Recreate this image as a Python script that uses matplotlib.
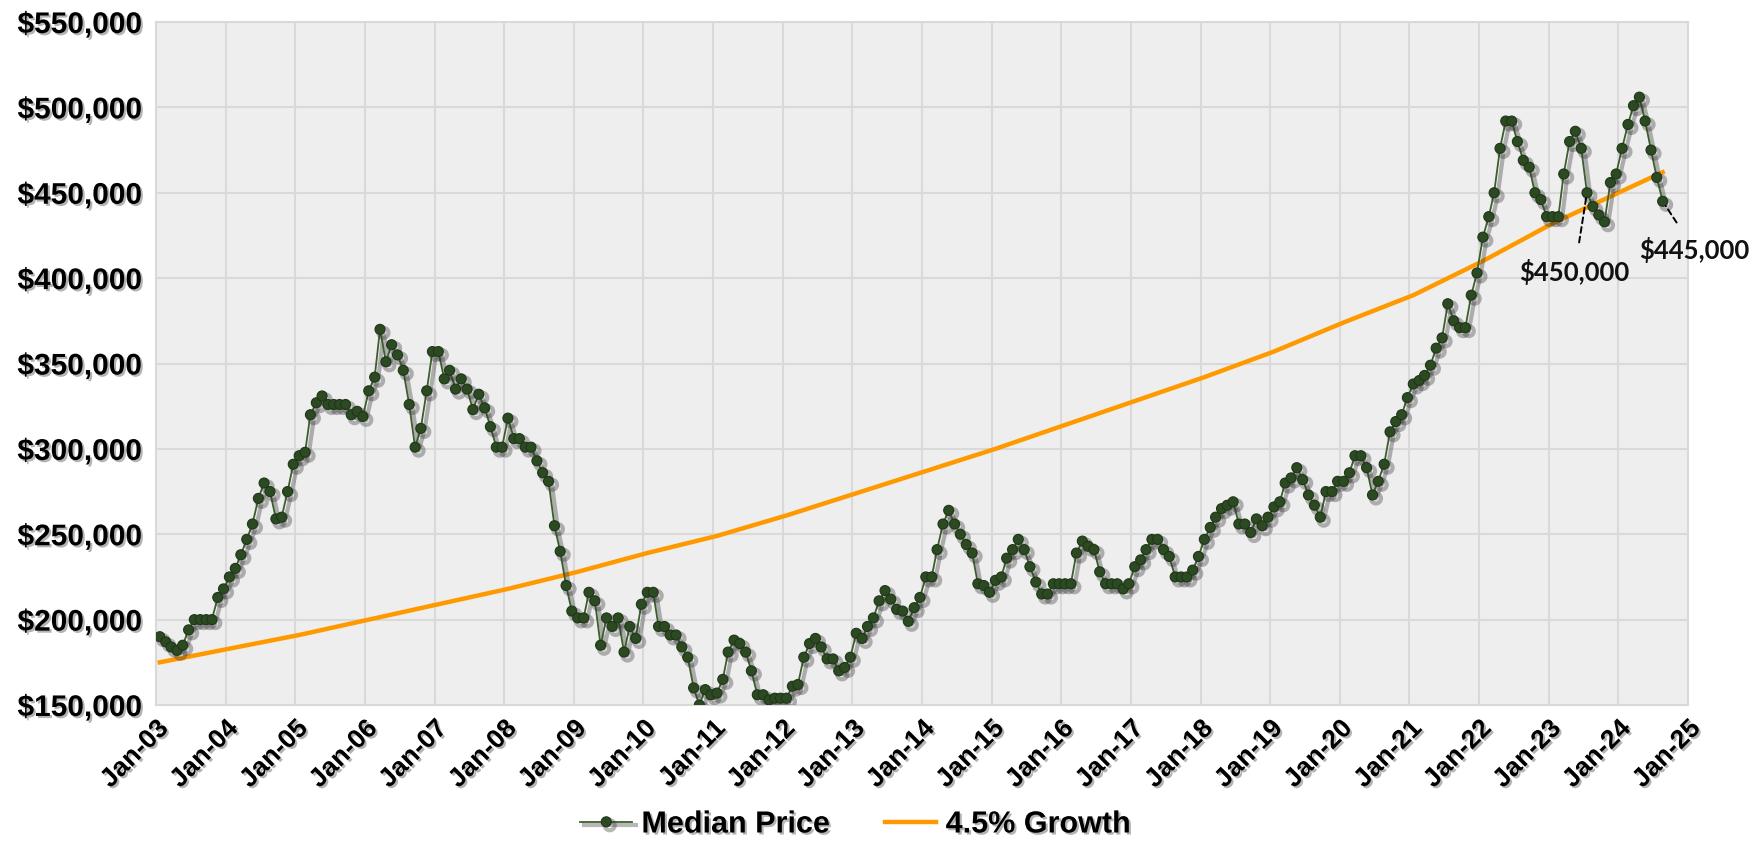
import numpy as np
import pandas as pd
import matplotlib
matplotlib.use("Agg")
import matplotlib.pyplot as plt
import matplotlib.dates as mdates
import matplotlib.patheffects as pe
from matplotlib import font_manager as fm
from matplotlib.ticker import FuncFormatter

# monthly median price (thousands of $), Jan-03 .. Aug-24
median_k = [
    190, 187, 184, 182, 185, 194, 200, 200, 200, 200, 213, 218,   # 2003
    225, 230, 238, 247, 256, 271, 280, 275, 259, 260, 275, 291,   # 2004
    296, 298, 320, 327, 331, 326, 326, 326, 326, 320, 322, 319,   # 2005
    334, 342, 370, 351, 361, 355, 346, 326, 301, 312, 334, 357,   # 2006
    357, 341, 346, 335, 341, 335, 323, 332, 324, 313, 301, 301,   # 2007
    318, 306, 306, 301, 301, 293, 286, 281, 255, 240, 220, 205,   # 2008
    201, 201, 216, 211, 185, 201, 196, 201, 181, 196, 189, 209,   # 2009
    216, 216, 196, 196, 191, 191, 184, 178, 160, 150, 159, 156,   # 2010
    157, 165, 181, 188, 186, 181, 170, 156, 156, 153, 154, 154,   # 2011
    154, 161, 162, 178, 186, 189, 184, 177, 177, 170, 172, 178,   # 2012
    192, 189, 196, 201, 211, 217, 212, 206, 205, 199, 207, 213,   # 2013
    225, 225, 241, 256, 264, 256, 250, 244, 239, 221, 220, 216,   # 2014
    223, 225, 236, 241, 247, 241, 231, 222, 215, 215, 221, 221,   # 2015
    221, 221, 239, 246, 243, 241, 228, 221, 221, 221, 218, 221,   # 2016
    231, 235, 241, 247, 247, 241, 237, 225, 225, 225, 229, 237,   # 2017
    247, 254, 260, 265, 267, 269, 256, 256, 251, 259, 255, 260,   # 2018
    266, 269, 280, 283, 289, 282, 273, 267, 260, 275, 275, 281,   # 2019
    281, 286, 296, 296, 289, 273, 281, 291, 310, 316, 320, 330,   # 2020
    338, 340, 343, 349, 359, 365, 385, 375, 371, 371, 390, 403,   # 2021
    424, 436, 450, 476, 492, 492, 480, 469, 465, 450, 446, 436,   # 2022
    436, 436, 461, 480, 486, 476, 450, 442, 437, 433, 456, 461,   # 2023
    476, 490, 501, 506, 492, 475, 459, 445,                       # 2024
]

# 4.5% growth reference line read at each January, plus the final month
growth_jan_k = [175, 183, 191, 200, 209, 218, 228, 239, 249, 261, 274,
                287, 300, 314, 328, 342, 357, 374, 390, 410, 432, 451]
growth_last_k = 462

y_ticks = [150000, 200000, 250000, 300000, 350000, 400000, 450000, 500000, 550000]
x_tick_years = list(range(2003, 2026))
callouts = {"$450,000": 246, "$445,000": 259}  # label -> month index

names = {f.name for f in fm.fontManager.ttflist}
narrow = "Liberation Sans Narrow" if "Liberation Sans Narrow" in names else "Liberation Sans"
# a bold face close to Calibri for the callouts
bold_names = {f.name for f in fm.fontManager.ttflist if f.weight in ("bold", 700) or str(f.weight) == "700"}
callout_font = next((n for n in ["Lato", "Open Sans", "Noto Sans", "Roboto"] if n in bold_names), "DejaVu Sans")
plt.rcParams["font.family"] = ["Liberation Sans", "DejaVu Sans"]

price = np.array(median_k) * 1000
months = pd.date_range("2003-01-01", periods=len(price), freq="MS") + pd.Timedelta(days=20)
growth = np.array(growth_jan_k + [growth_last_k]) * 1000
growth_dates = list(months[::12][:len(growth_jan_k)]) + [months[-1]]

fig = plt.figure(figsize=(17.64, 8.5), dpi=100)
ax = fig.add_axes([156 / 1764, 1 - 705 / 850, (1688 - 156) / 1764, (705 - 22) / 850])
ax.set_facecolor("#EEEEEE")

shadow_txt = [pe.withSimplePatchShadow(offset=(1.5, -1.5), shadow_rgbFace="0.35", alpha=0.45)]

ax.plot(months, price, color="#3B5E2B", lw=1.3, marker="o", markersize=7.2,
        markerfacecolor="#2C4A22", markeredgecolor="#1F3618", markeredgewidth=0.8,
        label="Median Price", zorder=3,
        path_effects=[pe.SimpleLineShadow(offset=(2.5, -2.5), shadow_color="0.2", alpha=0.35, linewidth=3),
                      pe.Normal()])
ax.plot(growth_dates, growth, color="#FF9900", lw=3.2, label="4.5% Growth", zorder=2)

for text, i in callouts.items():
    off = (-9, -57) if i < len(price) - 1 else (23, -35)
    ax.annotate(text, xy=(months[i], price[i]), xytext=off, textcoords="offset points",
                ha="center", va="center", fontsize=18.5, fontweight="bold", color="#111111",
                family=[callout_font, "DejaVu Sans"],
                arrowprops=dict(arrowstyle="-", linestyle=(0, (3, 2)), color="black", lw=1.4,
                                shrinkA=10, shrinkB=4),
                annotation_clip=False, zorder=5)

ax.set_ylim(150000, 550000)
ax.set_yticks(y_ticks)
ax.yaxis.set_major_formatter(FuncFormatter(lambda v, p: f"${v:,.0f}"))
ax.set_xlim(pd.Timestamp("2003-01-01"), pd.Timestamp("2025-01-01"))
ax.set_xticks([pd.Timestamp(f"{y}-01-01") for y in x_tick_years])
ax.xaxis.set_major_formatter(mdates.DateFormatter("%b-%y"))

ax.grid(True, color="#D9D9D9", lw=1.5)
ax.set_axisbelow(True)
for s in ax.spines.values():
    s.set_color("#D9D9D9")
    s.set_linewidth(1.5)
ax.tick_params(axis="y", length=0, pad=10)
ax.tick_params(axis="x", length=0, pad=8)

for lab in ax.get_yticklabels():
    lab.set_fontsize(21.5)
    lab.set_fontweight("bold")
    lab.set_family(narrow)
    lab.set_path_effects(shadow_txt)
for lab in ax.get_xticklabels():
    lab.set_fontsize(19)
    lab.set_fontweight("bold")
    lab.set_rotation(45)
    lab.set_ha("right")
    lab.set_rotation_mode("anchor")
    lab.set_path_effects(shadow_txt)

leg = fig.legend(loc="center", bbox_to_anchor=(0.485, 0.03), ncol=2, frameon=False,
                 prop={"family": narrow, "weight": "bold", "size": 22},
                 handlelength=1.7, columnspacing=1.8, handletextpad=0.3)
for t in leg.get_texts():
    t.set_path_effects(shadow_txt)

fig.savefig("out.png", dpi=100)
